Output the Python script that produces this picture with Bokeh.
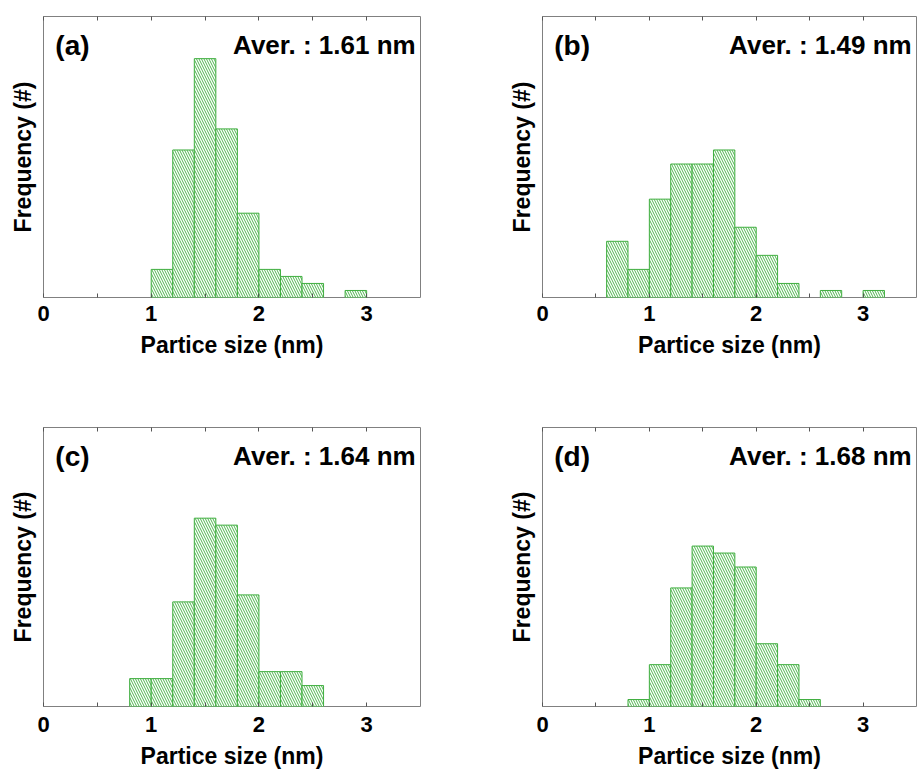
from bokeh.plotting import figure
from bokeh.models import Range1d, FixedTicker, LinearAxis, Label
from bokeh.layouts import column, row
from bokeh.embed import file_html
from bokeh.resources import INLINE

# ---- data (bin left edges in nm, bin width 0.2 nm, counts) ----
bin_width = 0.2
starts_a = [1.0, 1.2, 1.4, 1.6, 1.8, 2.0, 2.2, 2.4, 2.6, 2.8]
counts_a = [4, 21, 34, 24, 12, 4, 3, 2, 0, 1]
starts_b = [0.6, 0.8, 1.0, 1.2, 1.4, 1.6, 1.8, 2.0, 2.2, 2.4, 2.6, 2.8, 3.0]
counts_b = [8, 4, 14, 19, 19, 21, 10, 6, 2, 0, 1, 0, 1]
starts_c = [0.8, 1.0, 1.2, 1.4, 1.6, 1.8, 2.0, 2.2, 2.4]
counts_c = [4, 4, 15, 27, 26, 16, 5, 5, 3]
starts_d = [0.8, 1.0, 1.2, 1.4, 1.6, 1.8, 2.0, 2.2, 2.4]
counts_d = [1, 6, 17, 23, 22, 20, 9, 6, 1]

tags = ["(a)", "(b)", "(c)", "(d)"]
averages = ["Aver. : 1.61 nm", "Aver. : 1.49 nm", "Aver. : 1.64 nm", "Aver. : 1.68 nm"]
x_ticks = [0, 1, 2, 3]
x_minor = [0.5, 1.5, 2.5]
x_all = [0, 0.5, 1, 1.5, 2, 2.5, 3]
x_label = "Partice size (nm)"
y_label = "Frequency (#)"

FONT = "Liberation Sans"
GREEN = "#3fae3f"
HATCH = "#4fb54f"
FRAME = "#808080"
TICK = "#555555"


def make_panel(starts, counts, tag, aver, width, height, mb_left, mb_right, mb_top, mb_bottom,
               tick_standoff, label_standoff):
    p = figure(width=width, height=height, x_range=Range1d(0, 3.5), y_range=Range1d(0, 40),
               output_backend="svg", toolbar_location=None,
               min_border_left=mb_left, min_border_right=mb_right,
               min_border_top=mb_top, min_border_bottom=mb_bottom,
               background_fill_color="white", border_fill_color="white")
    p.grid.visible = False
    p.outline_line_color = FRAME
    p.outline_line_width = 1

    lefts = [s for s, c in zip(starts, counts) if c > 0]
    tops = [c for c in counts if c > 0]
    rights = [s + bin_width for s in lefts]
    p.quad(left=lefts, right=rights, bottom=0, top=tops,
           fill_color="white", line_color=GREEN, line_width=1,
           hatch_pattern="\\", hatch_color=HATCH, hatch_scale=5, hatch_weight=1)

    # bottom axis
    xa = p.xaxis[0]
    xa.ticker = FixedTicker(ticks=x_ticks, minor_ticks=x_minor)
    xa.axis_line_color = None
    xa.major_tick_in = 4
    xa.major_tick_out = 0
    xa.minor_tick_in = 4
    xa.minor_tick_out = 0
    xa.major_tick_line_color = TICK
    xa.minor_tick_line_color = TICK
    xa.major_label_text_font = FONT
    xa.major_label_text_font_style = "bold"
    xa.major_label_text_font_size = "22px"
    xa.major_label_text_color = "black"
    xa.major_label_standoff = tick_standoff
    xa.axis_label = x_label
    xa.axis_label_text_font = FONT
    xa.axis_label_text_font_style = "bold"
    xa.axis_label_text_font_size = "23px"
    xa.axis_label_text_color = "black"
    xa.axis_label_standoff = label_standoff

    # top axis (tick marks only, drawn as minor ticks so no labels exist)
    ta = LinearAxis(ticker=FixedTicker(ticks=[], minor_ticks=x_all),
                    axis_line_color=None, major_tick_in=0, major_tick_out=0,
                    minor_tick_in=4, minor_tick_out=0,
                    major_tick_line_color=None, minor_tick_line_color=TICK,
                    major_label_standoff=0)
    p.add_layout(ta, "above")

    # left axis (label only)
    ya = p.yaxis[0]
    ya.ticker = FixedTicker(ticks=[])
    ya.axis_line_color = None
    ya.major_tick_line_color = None
    ya.minor_tick_line_color = None
    ya.major_label_standoff = 0
    ya.major_tick_out = 0
    ya.minor_tick_out = 0
    ya.axis_label = y_label
    ya.axis_label_text_font = FONT
    ya.axis_label_text_font_style = "bold"
    ya.axis_label_text_font_size = "23px"
    ya.axis_label_text_color = "black"
    ya.axis_label_standoff = 8

    p.add_layout(Label(x=0.11, y=35.9, text=tag, text_font=FONT, text_font_style="bold",
                       text_font_size="28px", text_baseline="middle", text_align="left",
                       text_color="black"))
    p.add_layout(Label(x=3.455, y=35.9, text=aver, text_font=FONT, text_font_style="bold",
                       text_font_size="26px", text_baseline="middle", text_align="right",
                       text_color="black"))
    return p


pa = make_panel(starts_a, counts_a, tags[0], averages[0], 505, 407, 43, 85, 16, 110, 8, 8)
pb = make_panel(starts_b, counts_b, tags[1], averages[1], 412, 407, 35, 1, 16, 110, 8, 8)
pc = make_panel(starts_c, counts_c, tags[2], averages[2], 505, 364, 43, 85, 20, 63, 10, 8)
pd_ = make_panel(starts_d, counts_d, tags[3], averages[3], 412, 364, 35, 1, 20, 63, 10, 8)

layout = column(row(pa, pb), row(pc, pd_))

open("out.html", "w").write(file_html(layout, INLINE))
